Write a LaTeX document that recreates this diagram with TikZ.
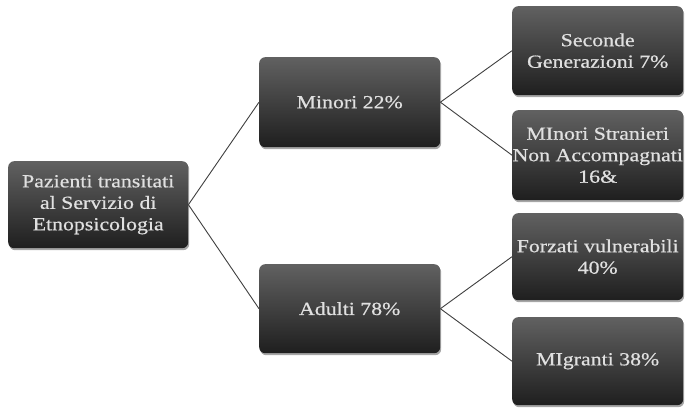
\documentclass[tikz,border=0pt]{standalone}
\usepackage{fontspec}
\setmainfont[FakeStretch=1.18,FakeBold=0.6]{Liberation Serif}
\usetikzlibrary{shadows}
\begin{document}
\begin{tikzpicture}[x=1pt,y=-1pt,
  box/.style={rounded corners=6pt, top color=black!62, bottom color=black!88,
    draw=none, text=black!12, align=center, font=\fontsize{18.5}{21.5}\selectfont,
    drop shadow={shadow xshift=1pt, shadow yshift=-2pt, opacity=0.35, fill=black},
    inner sep=0pt, anchor=north west},
  link/.style={draw=black!75, line width=0.9pt}]
\useasboundingbox[fill=white] (0,0) rectangle (685,409);
\node[box, minimum width=180pt, minimum height=87pt] (root) at (8,161) {Pazienti transitati\\al Servizio di\\Etnopsicologia};
\node[box, minimum width=181pt, minimum height=90pt] (min) at (259,57) {Minori 22\%};
\node[box, minimum width=181pt, minimum height=89pt] (adu) at (259,264) {Adulti 78\%};
\node[box, minimum width=171pt, minimum height=89pt] (sec) at (512,6) {Seconde\\Generazioni 7\%};
\node[box, minimum width=171pt, minimum height=90pt] (msn) at (512,110) {MInori Stranieri\\Non Accompagnati\\16\&};
\node[box, minimum width=171pt, minimum height=87pt] (for) at (512,213) {Forzati vulnerabili\\40\%};
\node[box, minimum width=171pt, minimum height=88pt] (mig) at (512,317) {MIgranti 38\%};
\draw[link] (root.east) -- (min.west);
\draw[link] (root.east) -- (adu.west);
\draw[link] (min.east) -- (sec.west);
\draw[link] (min.east) -- (msn.west);
\draw[link] (adu.east) -- (for.west);
\draw[link] (adu.east) -- (mig.west);
\end{tikzpicture}
\end{document}
